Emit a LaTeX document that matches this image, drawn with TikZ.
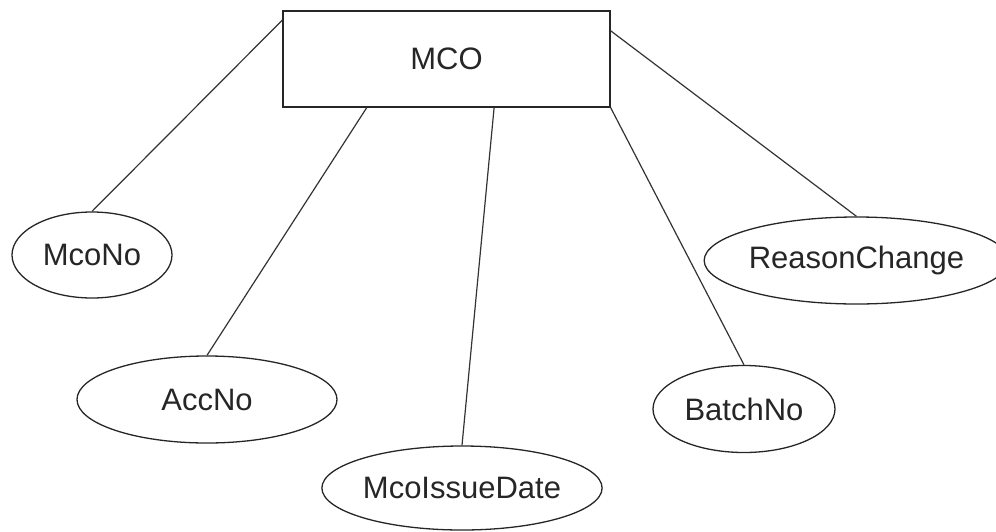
\documentclass[tikz,border=0pt]{standalone}
\usepackage{fontspec}
\setmainfont{Liberation Sans}
\usetikzlibrary{shapes.geometric,calc}
\begin{document}
\begin{tikzpicture}[x=1pt,y=-1pt,
  every node/.style={font=\fontsize{31}{36}\selectfont, text=black!85, inner sep=0pt},
  entity/.style={draw=black!85, line width=1.3pt, rectangle},
  attr/.style={draw=black!85, line width=1.3pt, ellipse},
  link/.style={draw=black!80, line width=1.2pt}]
  \useasboundingbox (0,0) rectangle (996,531);

  % entity
  \node[entity, minimum width=327pt, minimum height=96pt] (mco) at (446.5,59) {MCO};

  % attributes
  \node[attr, minimum width=160pt, minimum height=86pt] (mcono) at (92,255) {McoNo};
  \node[attr, minimum width=260pt, minimum height=87pt] (accno) at (207,399.5) {AccNo};
  \node[attr, minimum width=280pt, minimum height=84pt] (issue) at (462,488) {McoIssueDate};
  \node[attr, minimum width=182pt, minimum height=87pt] (batch) at (744,409) {BatchNo};
  \node[attr, minimum width=277pt, minimum height=87pt] (reason) at (856.5,260.5) {ReasonChange};

  % connectors
  \draw[link] ($(mco.north west)!0.1!(mco.south west)$) -- (mcono.north);
  \draw[link] ($(mco.south west)!0.257!(mco.south east)$) -- (accno.north);
  \draw[link] ($(mco.south west)!0.645!(mco.south east)$) -- (issue.north);
  \draw[link] (mco.south east) -- (batch.north);
  \draw[link] ($(mco.north east)!0.21!(mco.south east)$) -- (reason.north);
\end{tikzpicture}
\end{document}
